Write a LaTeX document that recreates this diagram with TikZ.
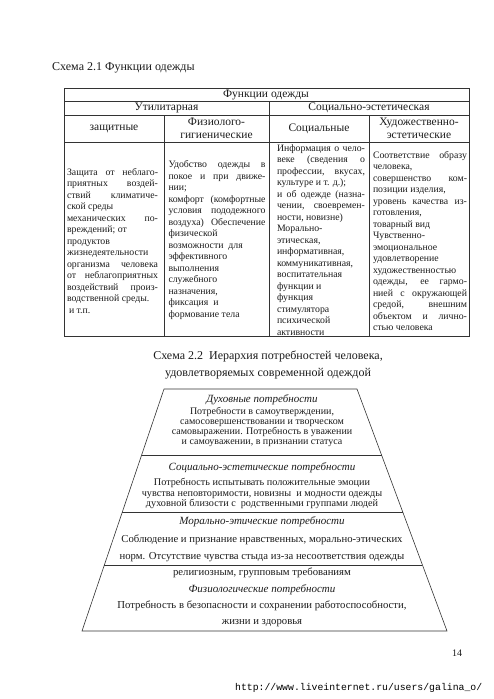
\documentclass[tikz,border=0pt]{standalone}
\usepackage{fontspec}
\setmainfont{Liberation Serif}
\setmonofont{Liberation Mono}
\usetikzlibrary{calc}
\definecolor{tblLine}{HTML}{333333}
\definecolor{inkDark}{HTML}{1C1C1C}

\tikzset{
  rule/.style={draw=tblLine, line width=0.7pt},
  pyrline/.style={draw=tblLine, line width=0.6pt},
  head/.style={inner sep=0pt, align=center, text=inkDark,
    font=\fontsize{11.5}{12.5}\selectfont},
  cell/.style={inner sep=0pt, align=justify, text=inkDark,
    font=\fontsize{9.8}{11.5}\selectfont},
  levelname/.style={inner sep=0pt, align=center, text=inkDark,
    font=\fontsize{11}{13}\selectfont\itshape},
  levelbody/.style 2 args={inner sep=0pt, align=center, text=inkDark,
    font=\fontsize{#1}{#2}\selectfont}
}

\begin{document}
\begin{tikzpicture}[x=1pt, y=-1pt]
  \useasboundingbox[fill=white] (0,0) rectangle (494,699);
  % title 2.1
  \node[anchor=west, inner sep=0pt, font=\fontsize{12}{14}\selectfont, text=inkDark]
    (title1) at (52,68) {Схема 2.1 Функции одежды};
  % table frame
  \draw[rule] (64,88) rectangle (469,336);
  \foreach \y in {101,115,142} \draw[rule] (64,\y) -- (469,\y);
  \draw[rule] (269,101) -- (269,336);
  \foreach \x in {164,369} \draw[rule] (\x,115) -- (\x,336);
  % table heads
  \node[head] (fhead) at (266,95) {Функции одежды};
  \node[head] (util) at (166.5,108) {Утилитарная};
  \node[head] (socest) at (369,108) {Социально-эстетическая};
  \node[head] (zasch) at (114,128.5) {защитные};
  \node[head] (fiz) at (216.5,128.5) {Физиолого-\\гигиенические};
  \node[head] (soc) at (319,128.5) {Социальные};
  \node[head] (hud) at (419,128.5) {Художественно-\\эстетические};
  % table cells
  \node[cell, text width=91pt] (zaschtxt) at (112.5,241) {Защита от неблаго-\linebreak
    приятных воздей-\linebreak ствий климатиче-\linebreak ской среды\\
    механических по-\linebreak вреждений; от\\ продуктов\\ жизнедеятельности\\
    организма человека\linebreak от неблагоприятных\linebreak воздействий произ-\linebreak
    водственной среды.\\ \hspace*{2pt}и т.п.};
  \node[cell, text width=97pt] (fiztxt) at (217,240) {Удобство одежды в\linebreak
    покое и при движе-\linebreak нии;\\ комфорт (комфортные\linebreak
    условия пододежного\linebreak воздуха) Обеспечение\linebreak физической\\
    возможности\ \ для\\ эффективного\\ выполнения\\ служебного\\ назначения,\\
    фиксация\ \ и\\ формование тела};
  \node[cell, text width=88pt] (soctxt) at (321,240) {Информация о чело-\linebreak
    веке (сведения о\linebreak профессии, вкусах,\linebreak культуре и т. д.);\\
    и об одежде (назна-\linebreak чении, своевремен-\linebreak ности, новизне)\\
    Морально-\\ этическая,\\ информативная,\\ коммуникативная,\\ воспитательная\\
    функции и\\ функция\\ стимулятора\\ психической\\ активности};
  \node[cell, text width=94pt] (hudtxt) at (420,241) {Соответствие образу\linebreak
    человека,\\ совершенство ком-\linebreak позиции изделия,\\
    уровень качества из-\linebreak готовления,\\ товарный вид\\ Чувственно-\\
    эмоциональное\\ удовлетворение\\ художественностью\\
    одежды, ее гармо-\linebreak нией с окружающей\linebreak средой, внешним\linebreak
    объектом и лично-\linebreak стью человека};
  % title 2.2
  \node[align=center, inner sep=0pt, font=\fontsize{12}{17}\selectfont, text=inkDark]
    (title2) at (268,364.5) {Схема 2.2\ \ Иерархия потребностей человека,\\
    удовлетворяемых современной одеждой};
  % pyramid
  \coordinate (pTL) at (164,389);
  \coordinate (pTR) at (357,389);
  \coordinate (pBL) at (82,631);
  \coordinate (pBR) at (447,631);
  \draw[pyrline] (pTL) -- (pTR) -- (pBR) -- (pBL) -- cycle;
  \foreach \t in {0.2727,0.51,0.727}
    \draw[pyrline] ($(pTL)!\t!(pBL)$) -- ($(pTR)!\t!(pBR)$);
  % levels
  \node[levelname] (dukh) at (262,400) {Духовные потребности};
  \node[levelbody={10}{10}] (dukhtxt) at (262,427) {Потребности в самоутверждении,\\
    самосовершенствовании и творческом\\ самовыражении. Потребность в уважении\\
    и самоуважении, в признании статуса};
  \node[levelname] (socl) at (262,468) {Социально-эстетические потребности};
  \node[levelbody={10.2}{10.5}] (socltxt) at (262,493.5) {Потребность испытывать положительные эмоции\\
    чувства неповторимости, новизны\ \ и модности одежды\\
    духовной близости с\ \ родственными группами людей};
  \node[levelname] (moral) at (262,522) {Морально-этические потребности};
  \node[levelbody={10.7}{16.5}] (moraltxt) at (262,556.5) {Соблюдение и признание нравственных, морально-этических\\
    норм. Отсутствие чувства стыда из-за несоответствия одежды\\
    религиозным, групповым требованиям};
  \node[levelname] (fiziol) at (262,590) {Физиологические потребности};
  \node[levelbody={10.7}{16}] (fizioltxt) at (262,614) {Потребность в безопасности и сохранении работоспособности,\\
    жизни и здоровья};
  % page number and url
  \node[inner sep=0pt, font=\fontsize{10}{12}\selectfont, text=inkDark] (pnum) at (457,653) {14};
  \node[anchor=west, inner sep=0pt, font=\fontsize{9.8}{12}\ttfamily, text=black]
    (url) at (235,688) {http://www.liveinternet.ru/users/galina\_o/};
\end{tikzpicture}
\end{document}
